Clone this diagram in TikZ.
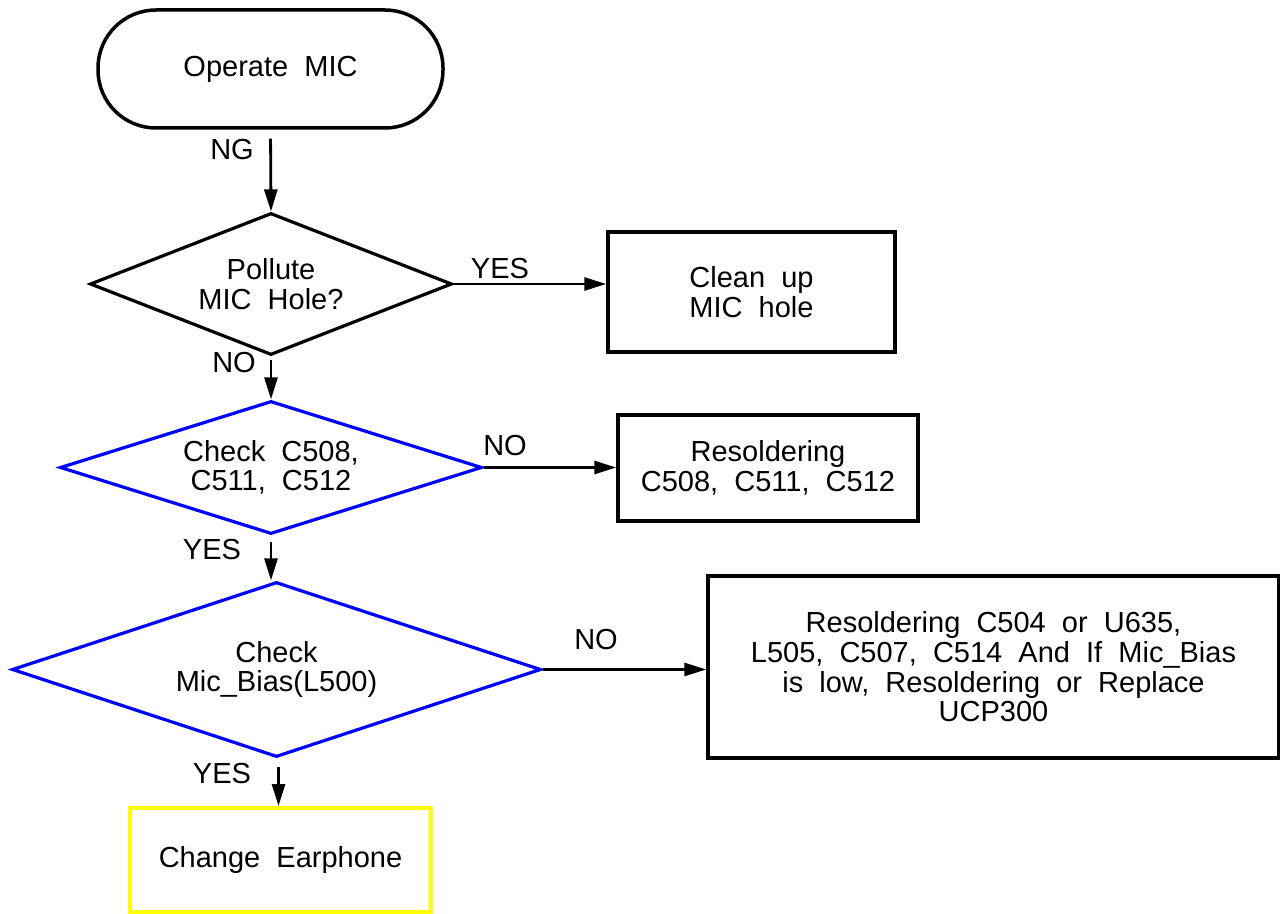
\documentclass[tikz,border=0pt]{standalone}
\usepackage{fontspec}
\setmainfont{Liberation Sans}[WordSpace=2]
\usetikzlibrary{shapes.geometric,arrows.meta}
\definecolor{pureblue}{RGB}{0,0,255}
\definecolor{pureyellow}{RGB}{255,255,0}
\begin{document}
\begin{tikzpicture}[x=0.5pt,y=-0.5pt,
  txt/.style={font=\fontsize{14.5}{14.8}\selectfont, align=center, inner sep=0pt},
  boxshape/.style={txt, draw=black, line width=1.75pt, rectangle},
  decision/.style={txt, draw=black, line width=1.6pt, diamond},
  bluedec/.style={decision, draw=pureblue},
  lbl/.style={font=\fontsize{14.5}{14.8}\selectfont, inner sep=0pt},
  arr/.style={line width=1.4pt, -{Triangle[length=11pt,width=6.5pt]}}
]
\useasboundingbox (0,0) rectangle (1280,914);

\node[boxshape, rounded corners=29pt, minimum width=172.5pt, minimum height=59pt] (term) at (270.5,69) {Operate MIC};

\node[decision, minimum width=181pt, minimum height=71pt, shape aspect=2.55] (d1) at (271,284) {Pollute\\MIC Hole?};
\node[boxshape, minimum width=143.5pt, minimum height=60pt] (b1) at (751.5,292) {Clean up\\MIC hole};

\node[bluedec, minimum width=211pt, minimum height=66.5pt, shape aspect=3.17] (d2) at (271,467.5) {Check C508,\\C511, C512};
\node[boxshape, minimum width=150pt, minimum height=53pt] (b2) at (768,468) {Resoldering\\C508, C511, C512};

\node[bluedec, minimum width=264.5pt, minimum height=87.5pt, shape aspect=3.02] (d3) at (276.5,669.5) {Check\\Mic\_Bias(L500)};
\node[boxshape, minimum width=285.5pt, minimum height=91pt] (b3) at (993.5,667) {Resoldering C504 or U635,\\L505, C507, C514 And If Mic\_Bias\\is low, Resoldering or Replace\\UCP300};

\node[boxshape, draw=pureyellow, line width=2pt, minimum width=150.5pt, minimum height=52pt] (b4) at (280.5,860) {Change Earphone};

\draw[arr, shorten <=4.5pt] (term.south) -- (d1.north);
\draw[arr] (d1.east) -- (d1.east -| b1.west);
\draw[arr, shorten <=1.5pt] (d1.south) -- (d1.south |- d2.north);
\draw[arr] (d2.east) -- (d2.east -| b2.west);
\draw[arr, shorten <=3pt] (d2.south) -- (d2.south |- d3.north);
\draw[arr] (d3.east) -- (d3.east -| b3.west);
\draw[arr, shorten <=4pt] ([xshift=1pt]d3.south) -- ([xshift=1pt]d3.south |- b4.north);

\node[lbl] (lng) at (232,150) {NG};
\node[lbl] (ly1) at (500,269) {YES};
\node[lbl] (ln1) at (234,363) {NO};
\node[lbl] (ln2) at (505,446) {NO};
\node[lbl] (ly2) at (212,550) {YES};
\node[lbl] (ln3) at (596,640) {NO};
\node[lbl] (ly3) at (222,774) {YES};
\end{tikzpicture}
\end{document}
